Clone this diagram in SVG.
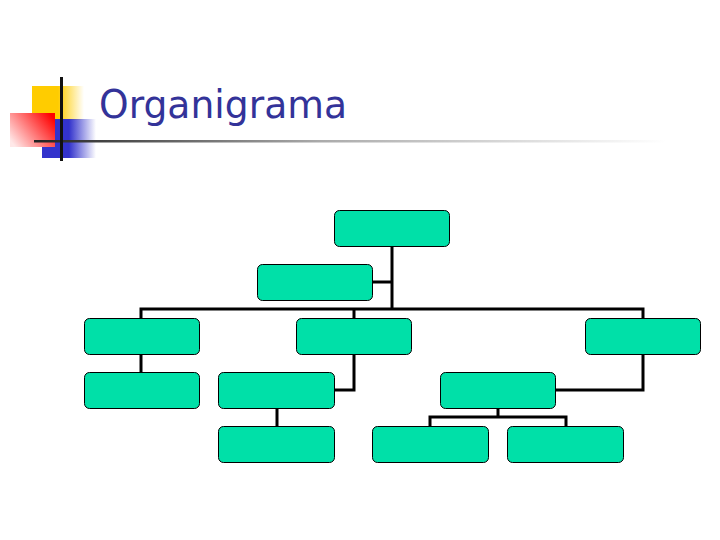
<svg xmlns="http://www.w3.org/2000/svg" width="720" height="540" viewBox="0 0 720 540">
<defs>
<linearGradient id="gy" x1="0" y1="0" x2="1" y2="0"><stop offset="0" stop-color="#FFCC00"/><stop offset="0.5" stop-color="#FFCC00"/><stop offset="1" stop-color="#FFCC00" stop-opacity="0"/></linearGradient>
<linearGradient id="gb" x1="0" y1="0" x2="1" y2="0"><stop offset="0" stop-color="#3333CC"/><stop offset="0.5" stop-color="#3333CC"/><stop offset="1" stop-color="#3333CC" stop-opacity="0"/></linearGradient>
<linearGradient id="gr" x1="1" y1="0.2" x2="0" y2="0.8"><stop offset="0" stop-color="#FF0000"/><stop offset="1" stop-color="#FFE8E8"/></linearGradient>
<linearGradient id="gl" x1="0" y1="0" x2="1" y2="0"><stop offset="0" stop-color="#222222"/><stop offset="0.45" stop-color="#AAAAAA"/><stop offset="1" stop-color="#FFFFFF"/></linearGradient>
<style>
.box{fill:#00E0A8;stroke:#000;stroke-width:1;}
.ln{fill:none;stroke:#000;stroke-width:3;}
.title{font-family:"DejaVu Sans",Verdana,sans-serif;font-size:39px;fill:#333399;}
</style>
</defs>
<g id="logo">
<rect x="32" y="86" width="52" height="34" fill="url(#gy)"/>
<rect x="42" y="119" width="54" height="39" fill="url(#gb)"/>
<rect x="10" y="113" width="45" height="34" fill="url(#gr)"/>
<rect x="34" y="140" width="632" height="2.5" fill="url(#gl)"/>
<rect x="60" y="77" width="3" height="84" fill="#111"/>
</g>
<text class="title" x="99" y="118" textLength="248" lengthAdjust="spacingAndGlyphs">Organigrama</text>
<g id="connectors">
<path class="ln" d="M392,246 V309"/>
<path class="ln" d="M373,282 H392"/>
<path class="ln" d="M141,318 V309 H643 V318"/>
<path class="ln" d="M354,309 V318"/>
<path class="ln" d="M141,354 V372"/>
<path class="ln" d="M354,354 V390 H334"/>
<path class="ln" d="M643,354 V390 H555"/>
<path class="ln" d="M277,408 V426"/>
<path class="ln" d="M498,408 V417"/>
<path class="ln" d="M430,426 V417 H566 V426"/>
</g>
<g id="n-top"><rect class="box" x="334.5" y="210.5" width="115" height="36" rx="5"/></g>
<g id="n-assistant"><rect class="box" x="257.5" y="264.5" width="115" height="36" rx="5"/></g>
<g id="n-a"><rect class="box" x="84.5" y="318.5" width="115" height="36" rx="5"/></g>
<g id="n-b"><rect class="box" x="296.5" y="318.5" width="115" height="36" rx="5"/></g>
<g id="n-c"><rect class="box" x="585.5" y="318.5" width="115" height="36" rx="5"/></g>
<g id="n-d"><rect class="box" x="84.5" y="372.5" width="115" height="36" rx="5"/></g>
<g id="n-e"><rect class="box" x="218.5" y="372.5" width="116" height="36" rx="5"/></g>
<g id="n-f"><rect class="box" x="440.5" y="372.5" width="115" height="36" rx="5"/></g>
<g id="n-g"><rect class="box" x="218.5" y="426.5" width="116" height="36" rx="5"/></g>
<g id="n-h"><rect class="box" x="372.5" y="426.5" width="116" height="36" rx="5"/></g>
<g id="n-i"><rect class="box" x="507.5" y="426.5" width="116" height="36" rx="5"/></g>
</svg>
